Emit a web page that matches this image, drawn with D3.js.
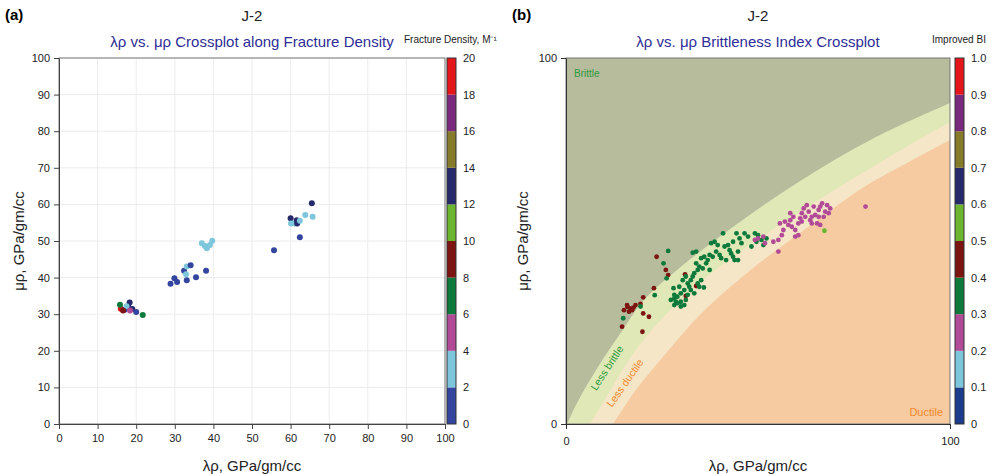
<!DOCTYPE html>
<html><head><meta charset="utf-8">
<script src="https://cdn.jsdelivr.net/npm/d3@7"></script>
<style>
body{margin:0;background:#fff}
svg{display:block;font-family:"Liberation Sans",Arial,sans-serif}
</style>
</head><body>
<svg id="chart" width="990" height="474"></svg>
<script>
// ---- Fracture-density panel ----
const fdBreaks = [0,2,4,6,8,10,12,14,16,18,20];
const fdColors = ["#34459f","#7dc6dc","#b24b97","#0d7a3b","#7c1512","#6cb531","#262a6c","#857b2a","#7a2a7c","#e4161a"];
const fdLambda = [28.9,29.9,30.6,32.4,33.1,34.1,32.9,33.1,35.5,38.1,37.0,37.8,38.3,39.1,39.7,55.7,60.0,61.1,61.6,61.7,62.4,60.1,63.8,65.7,65.5,62.4,
                  16.0,15.8,17.0,18.0,18.3,17.5,19.0,20.0,21.7,16.6,18.4];
const fdMu     = [38.3,39.8,38.8,41.9,43.0,43.4,40.9,39.3,40.1,41.9,49.4,48.6,48.0,48.9,50.1,47.5,56.2,54.8,55.7,54.8,55.5,54.8,57.1,56.6,60.3,51.0,
                  31.5,32.6,31.2,32.0,33.2,32.2,31.4,30.6,29.8,31.0,31.0];
const fdValue  = [1,1,1,1,3,1,3,1,1,1,3,3,3,3,3,1,13,3,13,13,3,3,3,3,13,1,
                  19,7,1,13,13,3,13,1,7,9,5];

// ---- Brittleness-index panel ----
const biBreaks = [0,0.1,0.2,0.3,0.4,0.5,0.6,0.7,0.8,0.9,1.0];
const biColors = ["#1b3b8c","#7dc6dc","#b24b97","#0d7a3b","#7c1512","#6cb531","#262a6c","#857b2a","#7a2a7c","#e4161a"];
// [λρ, μρ, BI]
const biSamples = [
  // BI 0.4–0.5
  [15.9,32.5,0.45],[16.8,31.6,0.45],[17.2,31.1,0.45],[15.1,31.1,0.45],[16.4,30.7,0.45],[18.1,32.5,0.45],
  [19.4,32.8,0.45],[20.1,30.2,0.45],[21.6,29.3,0.45],[14.6,26.6,0.45],[19.9,25.2,0.45],[16.0,32.0,0.45],
  [17.6,31.8,0.45],[23.6,45.7,0.45],[26.0,42.1,0.45],[26.6,40.7,0.45],[22.9,37.1,0.45],[20.1,34.6,0.45],
  [31.0,40.9,0.45],[33.9,37.7,0.45],[31.2,35.0,0.45],
  // BI 0.3–0.4
  [14.9,28.9,0.35],[19.4,32.1,0.35],[27.3,33.9,0.35],[28.2,34.3,0.35],[29.0,34.8,0.35],[28.6,33.4,0.35],
  [29.9,35.7,0.35],[30.8,36.6,0.35],[29.5,37.5,0.35],[30.4,39.3,0.35],[31.7,38.4,0.35],[32.5,39.3,0.35],
  [33.0,40.3,0.35],[33.4,41.2,0.35],[34.3,42.1,0.35],[34.7,43.0,0.35],[33.9,43.9,0.35],[35.6,42.5,0.35],
  [36.5,43.9,0.35],[36.9,44.8,0.35],[36.0,45.7,0.35],[35.2,45.3,0.35],[37.4,42.1,0.35],[32.5,36.6,0.35],
  [33.4,35.7,0.35],[31.7,35.3,0.35],[29.9,33.4,0.35],[30.8,32.5,0.35],[29.0,33.0,0.35],[28.2,35.3,0.35],
  [32.1,37.5,0.35],[34.3,38.4,0.35],[35.2,39.3,0.35],[35.9,37.3,0.35],[33.9,47.1,0.35],[33.0,46.8,0.35],
  [37.8,49.4,0.35],[38.7,49.8,0.35],[39.5,48.9,0.35],[39.1,47.1,0.35],[40.0,46.2,0.35],[40.9,52.1,0.35],
  [41.3,48.5,0.35],[42.2,48.9,0.35],[42.6,47.5,0.35],[43.0,46.6,0.35],[43.5,49.8,0.35],[43.9,44.8,0.35],
  [44.8,47.1,0.35],[44.4,52.1,0.35],[45.2,50.7,0.35],[46.5,52.1,0.35],[45.7,49.4,0.35],[47.4,51.2,0.35],
  [48.3,48.5,0.35],[49.6,49.8,0.35],[50.0,51.6,0.35],[50.9,50.3,0.35],[52.2,50.7,0.35],[51.4,48.9,0.35],
  [40.4,45.3,0.35],[41.7,44.8,0.35],[43.5,45.7,0.35],[44.8,44.8,0.35],[31.2,40.3,0.35],[23.1,35.2,0.35],
  [26.6,47.3,0.35],[25.4,43.9,0.35],[26.2,39.8,0.35],[28.0,37.1,0.35],[29.9,32.1,0.35],[28.2,32.5,0.35],
  [31.2,33.9,0.35],[34.7,37.5,0.35],[37.4,46.2,0.35],[38.2,45.7,0.35],[49.2,52.1,0.35],
  // BI 0.2–0.3
  [49.2,50.3,0.25],[50.0,50.7,0.25],[51.4,51.2,0.25],[51.8,49.4,0.25],[54.0,49.8,0.25],[55.3,50.3,0.25],
  [56.2,51.6,0.25],[55.7,54.8,0.25],[57.0,55.3,0.25],[57.9,54.4,0.25],[58.4,55.7,0.25],[58.8,53.9,0.25],
  [59.7,53.0,0.25],[59.2,56.6,0.25],[60.5,54.8,0.25],[61.0,56.2,0.25],[61.4,57.6,0.25],[61.9,58.9,0.25],
  [62.3,56.6,0.25],[63.2,58.0,0.25],[63.6,55.7,0.25],[64.0,54.8,0.25],[64.9,57.1,0.25],[65.8,58.5,0.25],
  [66.2,59.4,0.25],[66.7,60.3,0.25],[67.5,58.0,0.25],[68.4,57.6,0.25],[68.8,58.9,0.25],[68.0,59.8,0.25],
  [65.4,54.8,0.25],[64.5,59.4,0.25],[62.7,59.8,0.25],[58.4,57.6,0.25],[56.6,53.0,0.25],[55.3,47.1,0.25],
  [59.7,51.2,0.25],[60.5,51.6,0.25],[78.0,59.4,0.25],[66.2,54.4,0.25],[64.0,56.6,0.25],[61.4,55.3,0.25],
  [65.8,56.6,0.25],[67.1,56.6,0.25],
  // BI 0.5–0.6
  [67.3,52.8,0.55]
];

// Zone boundaries in the λρ–μρ plane, [λρ, μρ]
const brittleEdge     = [[0.3,0],[3,6],[8,15],[14,24.5],[20,33.5],[30,43],[45,55],[61.4,66.7],[80,78],[100,87.7]];
const lessBrittleEdge = [[6.3,0],[12,10],[18,20],[27,31],[40,43],[55,54],[70,64],[85,73.5],[100,82.5]];
const lessDuctileEdge = [[12.3,0],[18,9],[25,18],[35,30],[48,42],[62,53],[78,65],[90,72],[100,77.6]];

const svg = d3.select("#chart");

function colourBar(g, x0, y0, y1, w, breaks, colours, fmt) {
  const s = d3.scaleLinear().domain([breaks[0], breaks[breaks.length-1]]).range([y1, y0]);
  g.selectAll("rect.cb").data(colours).join("rect").attr("class","cb")
    .attr("x", x0).attr("width", w)
    .attr("y", (c,i) => s(breaks[i+1])).attr("height", (c,i) => s(breaks[i]) - s(breaks[i+1]))
    .attr("fill", c => c);
  g.append("rect").attr("x", x0).attr("y", y0).attr("width", w).attr("height", y1 - y0)
    .attr("fill","none").attr("stroke","#333").attr("stroke-width",1);
  g.selectAll("text.cbl").data(breaks).join("text").attr("class","cbl")
    .attr("x", x0 + w + 7).attr("y", d => s(d) + 4)
    .attr("font-size", 11).attr("fill","#222").text(fmt);
}

// ---------- panel (a) ----------
{
  const x = d3.scaleLinear().domain([0,100]).range([59,445]);
  const y = d3.scaleLinear().domain([0,100]).range([424,58]);
  const g = svg.append("g");
  const ticks = d3.range(0,101,10);
  g.selectAll("line.gx").data(ticks.slice(1)).join("line").attr("class","gx")
    .attr("x1", d => x(d)).attr("x2", d => x(d)).attr("y1", y(0)).attr("y2", y(100))
    .attr("stroke","#ececec");
  g.selectAll("line.gy").data(ticks.slice(1)).join("line").attr("class","gy")
    .attr("y1", d => y(d)).attr("y2", d => y(d)).attr("x1", x(0)).attr("x2", x(100))
    .attr("stroke","#ececec");
  g.append("rect").attr("x", x(0)).attr("y", y(100)).attr("width", x(100)-x(0)).attr("height", y(0)-y(100))
    .attr("fill","none").attr("stroke","#777");
  const ax = g.append("g").attr("transform", `translate(0,${y(0)})`)
    .call(d3.axisBottom(x).tickValues(ticks).tickSize(5).tickSizeOuter(0).tickPadding(5));
  const ay = g.append("g").attr("transform", `translate(${x(0)},0)`)
    .call(d3.axisLeft(y).tickValues(ticks).tickSize(5).tickSizeOuter(0).tickPadding(4));
  [ax, ay].forEach(a => {
    a.select(".domain").attr("stroke","#444");
    a.selectAll(".tick line").attr("stroke","#444");
    a.selectAll("text").attr("font-size", 11).attr("fill","#222").attr("font-family","Liberation Sans, Arial, sans-serif");
  });
  const fdColour = d3.scaleThreshold().domain(fdBreaks.slice(1,-1)).range(fdColors);
  g.selectAll("circle").data(fdLambda.map((v,i) => [v, fdMu[i], fdValue[i]])).join("circle")
    .attr("cx", d => x(d[0])).attr("cy", d => y(d[1])).attr("r", 3)
    .attr("fill", d => fdColour(d[2]));
  colourBar(g.append("g"), 447, 58, 424, 9, fdBreaks, fdColors, d => d);

  g.append("text").attr("x", 5).attr("y", 20).attr("font-size", 15).attr("font-weight","bold").text("(a)");
  g.append("text").attr("x", 252).attr("y", 21).attr("text-anchor","middle").attr("font-size", 15).attr("fill","#222").text("J-2");
  g.append("text").attr("x", 252).attr("y", 47).attr("text-anchor","middle").attr("font-size", 15).attr("fill","#2e2e96")
    .text("λρ vs. μρ Crossplot along Fracture Density");
  g.append("text").attr("x", 404).attr("y", 43).attr("font-size", 10).attr("fill","#222")
    .text("Fracture Density, M\u207B\u00B9");
  g.append("text").attr("x", 252).attr("y", 471).attr("text-anchor","middle").attr("font-size", 15).attr("fill","#222").text("λρ, GPa/gm/cc");
  g.append("text").attr("transform", "translate(24,241) rotate(-90)").attr("text-anchor","middle").attr("font-size", 15).attr("fill","#222").text("μρ, GPa/gm/cc");
}

// ---------- panel (b) ----------
{
  const x = d3.scaleLinear().domain([0,100]).range([566,950]);
  const y = d3.scaleLinear().domain([0,100]).range([424,58]);
  const g = svg.append("g");
  const clip = svg.append("defs").append("clipPath").attr("id","bclip");
  clip.append("rect").attr("x", x(0)).attr("y", y(100)).attr("width", x(100)-x(0)).attr("height", y(0)-y(100));
  const zones = g.append("g").attr("clip-path","url(#bclip)");
  zones.append("rect").attr("x", x(0)).attr("y", y(100)).attr("width", x(100)-x(0)).attr("height", y(0)-y(100))
    .attr("fill","#f6cba1");
  const edgeLine = d3.line().x(d => x(d[0])).y(d => y(d[1])).curve(d3.curveCatmullRom.alpha(0.5));
  function zone(edge, fill) {
    const path = edgeLine(edge) + `L${x(100)},${y(100)}L${x(0)},${y(100)}L${x(0)},${y(0)}Z`;
    zones.append("path").attr("d", path).attr("fill", fill);
  }
  zone(lessDuctileEdge, "#f4e6c7");
  zone(lessBrittleEdge, "#dfe8b6");
  zone(brittleEdge, "#b6bc9c");

  g.append("rect").attr("x", x(0)).attr("y", y(100)).attr("width", x(100)-x(0)).attr("height", y(0)-y(100))
    .attr("fill","none").attr("stroke","#777");
  const ax = g.append("g").attr("transform", `translate(0,${y(0)})`)
    .call(d3.axisBottom(x).tickValues([0,100]).tickSize(5).tickSizeOuter(0).tickPadding(8));
  const ay = g.append("g").attr("transform", `translate(${x(0)},0)`)
    .call(d3.axisLeft(y).tickValues([0,100]).tickSize(5).tickSizeOuter(0).tickPadding(4));
  [ax, ay].forEach(a => {
    a.select(".domain").attr("stroke","#333");
    a.selectAll(".tick line").attr("stroke","#333");
    a.selectAll("text").attr("font-size", 11).attr("fill","#222").attr("font-family","Liberation Sans, Arial, sans-serif");
  });

  g.append("text").attr("x", 574).attr("y", 77).attr("font-size", 10).attr("fill","#2f9a3e").text("Brittle");
  g.append("text").attr("x", 943).attr("y", 416).attr("text-anchor","end").attr("font-size", 11).attr("fill","#f0892c").text("Ductile");
  g.append("text").attr("transform","translate(610,370) rotate(-57)").attr("text-anchor","middle").attr("font-size", 10.5).attr("fill","#2f9a3e").text("Less brittle");
  g.append("text").attr("transform","translate(628,385) rotate(-55)").attr("text-anchor","middle").attr("font-size", 10.5).attr("fill","#f0892c").text("Less ductile");

  const biColour = d3.scaleThreshold().domain(biBreaks.slice(1,-1)).range(biColors);
  g.selectAll("circle").data(biSamples).join("circle")
    .attr("cx", d => x(d[0])).attr("cy", d => y(d[1])).attr("r", 2.4)
    .attr("fill", d => biColour(d[2]));
  colourBar(g.append("g"), 955, 58, 424, 9, biBreaks, biColors, d => d === 0 ? "0" : d3.format(".1f")(d));

  g.append("text").attr("x", 512).attr("y", 20).attr("font-size", 15).attr("font-weight","bold").text("(b)");
  g.append("text").attr("x", 758).attr("y", 21).attr("text-anchor","middle").attr("font-size", 15).attr("fill","#222").text("J-2");
  g.append("text").attr("x", 758).attr("y", 47).attr("text-anchor","middle").attr("font-size", 15).attr("fill","#2e2e96")
    .text("λρ vs. μρ Brittleness Index Crossplot");
  g.append("text").attr("x", 932).attr("y", 43).attr("font-size", 10).attr("fill","#222").text("Improved BI");
  g.append("text").attr("x", 758).attr("y", 471).attr("text-anchor","middle").attr("font-size", 15).attr("fill","#222").text("λρ, GPa/gm/cc");
  g.append("text").attr("transform", "translate(528,241) rotate(-90)").attr("text-anchor","middle").attr("font-size", 15).attr("fill","#222").text("μρ, GPa/gm/cc");
}
</script>
</body></html>
